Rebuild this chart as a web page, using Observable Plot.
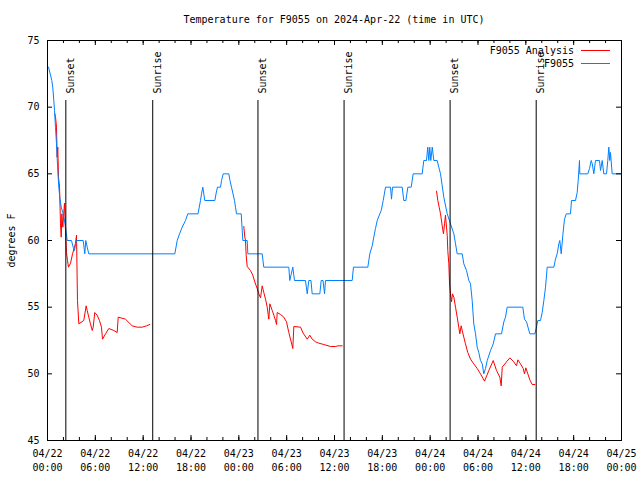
<!DOCTYPE html>
<html><head><meta charset="utf-8">
<script src="https://cdn.jsdelivr.net/npm/d3@7"></script>
<script src="https://cdn.jsdelivr.net/npm/@observablehq/plot@0.6"></script>
<style>
body{margin:0;background:#fff;font-family:"DejaVu Sans Mono",monospace;font-size:10px;color:#000;}
#wrap{position:relative;width:640px;height:480px;overflow:hidden;}
#title{position:absolute;left:47px;width:574px;top:14px;line-height:12px;text-align:center;white-space:pre;}
#chart{position:absolute;left:0;top:30px;}
#legend{position:absolute;right:30px;top:44px;}
#legend .row{display:flex;align-items:center;justify-content:flex-end;height:13px;line-height:13px;}
#legend .sw{display:inline-block;width:29px;height:0;margin-left:7px;border-top:1px solid;}
</style></head><body>
<div id="wrap">
  <div id="title">Temperature for F9055 on 2024-Apr-22 (time in UTC)</div>
  <div id="chart"></div>
  <div id="legend"></div>
</div>
<script>
const titleText = "Temperature for F9055 on 2024-Apr-22 (time in UTC)";
const yLabel = "degrees F";
const seriesNames = ["F9055 Analysis", "F9055"];
const seriesColors = ["#ff0000", "#0080ff"];

// Hours since 2024-04-22 00:00 UTC
const xMajorHours = [0,6,12,18,24,30,36,42,48,54,60,66,72];
const xTickLabels = ["04/22\n00:00","04/22\n06:00","04/22\n12:00","04/22\n18:00","04/23\n00:00","04/23\n06:00","04/23\n12:00","04/23\n18:00","04/24\n00:00","04/24\n06:00","04/24\n12:00","04/24\n18:00","04/25\n00:00"];
const xMinorHours = d3.range(0, 73, 2);
const yTicks = [45,50,55,60,65,70,75];

const sunHours = [2.3, 13.2, 26.4, 37.2, 50.5, 61.3];
const sunLabels = ["Sunset","Sunrise","Sunset","Sunrise","Sunset","Sunrise"];

// Observed F9055
const obsHours = [0.13,0.38,0.54,0.66,0.79,0.88,1.00,1.13,1.29,1.42,1.54,1.72,1.92,2.04,2.22,2.35,2.47,3.01,3.22,3.39,3.51,3.60,4.48,4.68,4.80,4.98,5.18,
15.97,16.27,16.56,16.90,17.31,17.60,18.88,19.19,19.32,19.48,19.73,20.99,21.14,21.32,21.70,21.83,22.04,22.74,22.89,23.08,23.27,23.46,23.58,23.71,24.30,24.40,24.50,25.05,25.13,26.93,27.13,
30.27,30.39,30.77,30.98,32.36,32.58,32.78,33.05,33.20,34.16,34.33,34.56,34.75,34.87,38.22,38.38,40.18,40.43,40.73,40.93,41.14,41.36,41.68,41.86,42.11,42.40,43.03,43.15,43.28,44.49,44.69,44.95,45.20,45.62,45.87,47.00,
47.20,47.54,47.70,47.83,47.95,48.08,48.26,48.46,48.88,49.08,49.30,49.51,49.71,50.14,50.55,50.97,51.18,51.39,52.02,52.22,52.56,52.85,53.06,53.27,53.47,53.69,53.90,54.10,54.31,54.53,54.73,54.94,55.16,55.57,55.91,56.20,56.95,57.24,57.45,57.66,59.62,59.83,60.09,60.50,61.13,
61.30,61.50,61.84,62.05,62.26,62.47,62.68,63.51,63.72,63.93,64.14,64.26,64.44,64.64,64.85,65.07,65.60,65.73,66.23,66.44,66.57,66.73,66.77,67.77,67.99,68.20,68.33,68.53,68.74,69.24,69.37,69.58,69.78,70.12,70.28,70.41,70.53,70.62,70.83,72.0];
const obsTemps = [73,72.4,72,71.5,70.5,69.75,68.5,67.25,65.25,64,63.25,62.5,62.1,61.75,61.25,60.6,60,60,59.5,59.25,59.7,60,60,59,60,59.5,59,
59,60,60.5,61,61.5,62,62,63,63.5,64,63,63,63.5,64,64,64.5,65,65,64.5,64,63.5,63,62.5,62,62,61,60,60,59,59,58,
58,57,58,57,57,56,57,57,56,56,57,57,56,57,57,58,58,59,59.6,60.25,60.9,61.5,62,62.25,63,64,64,63.1,64,64,63,63,64,64,65,65,
66,66,67,66,67,66,67,66,66,65.5,65,64.1,63.25,62,61.25,60.5,59.75,59,59,58.25,57.75,57,56.75,55.5,53.75,53,52,51.6,51,50.75,50,50.4,51,51.75,52.25,53,53,53.9,54.25,55,55,54.1,53.9,53,53,
53.4,54,54,54.6,55.5,56.5,58,58,58.6,59,59.75,60,59,60.4,61.6,62,62,63,63,63.6,64.5,66,65,65,65.4,66,65.75,65,66,66,65.25,66,65,65,66,67,66,66.6,65,65];

// F9055 Analysis (null = gap between runs)
const anaHours = [0.92,1.00,1.13,1.21,1.29,1.38,1.51,1.63,1.72,1.80,1.92,2.13,2.26,2.38,2.51,2.63,2.89,3.14,3.39,3.51,3.64,3.76,3.93,4.55,4.85,4.98,5.18,5.39,5.61,5.73,5.93,6.23,6.52,6.77,6.90,7.28,7.69,8.32,8.74,8.87,9.78,10.62,11.25,11.88,12.42,12.83,
null,
24.62,24.75,24.84,24.92,25.05,25.46,25.75,26.00,26.30,26.51,26.72,26.93,27.13,27.35,27.56,27.76,27.89,28.19,28.39,28.60,28.73,28.81,29.23,29.64,29.98,30.27,30.57,30.77,30.90,31.74,32.07,32.58,32.90,33.20,33.62,34.03,34.66,35.50,36.13,36.41,36.97,
null,
48.80,48.96,49.13,49.30,49.51,49.67,49.80,49.92,50.05,50.14,50.21,50.34,50.43,50.55,50.68,50.80,50.97,51.18,51.39,51.59,51.72,51.89,52.02,52.22,52.43,52.72,53.06,53.47,53.90,54.31,54.82,55.36,55.91,56.32,56.74,56.91,57.04,57.58,57.99,58.42,58.83,59.00,59.33,59.67,59.83,60.00,60.25,60.50,60.80,61.13];
const anaTemps = [69.5,69.3,68.5,66.25,67,64.75,64.0,61.25,60.25,62,61,62.8,60.7,59.1,58.5,58.0,58.3,59.0,59.5,59.8,60.4,55.5,53.75,54.0,55.1,54.75,54.25,53.75,53.25,53.5,54.6,54.4,54.0,53.5,52.6,53.0,53.4,53.25,53.1,54.25,54.1,53.6,53.5,53.5,53.6,53.7,
null,
61.05,60.25,60,58.9,58.05,57.75,57.4,56.9,56.4,56.0,55.7,56.6,56.1,55.6,55.0,54.1,55.25,54.75,54.4,54.0,53.7,54.6,54.45,54.25,53.9,53.1,52.4,51.9,53.55,53.5,53.05,52.6,52.9,52.6,52.4,52.3,52.2,52.05,52.05,52.1,52.1,
null,
63.7,63.0,62.5,62.0,61.1,60.5,61.25,61.9,61.0,60.4,59.25,58.25,56.75,56.0,55.4,56.0,55.75,55.0,54.25,53.5,53.0,53.6,53.25,52.75,52.25,51.6,51.1,50.75,50.4,50.0,49.45,50.25,51.0,50.25,49.75,49.1,50.5,50.9,51.2,50.95,50.6,51.05,50.75,50.4,50.0,50.45,50.0,49.55,49.2,49.2];

const obs = obsHours.map((h, i) => ({h, t: obsTemps[i]}));
const ana = anaHours.map((h, i) => ({h, t: anaTemps[i]}));
const sun = sunHours.map((h, i) => ({h, label: sunLabels[i]}));

document.getElementById("title").textContent = titleText;

const plot = Plot.plot({
  width: 640,
  height: 450,
  marginTop: 10,
  marginBottom: 40,
  marginLeft: 47,
  marginRight: 19,
  style: {fontFamily: "DejaVu Sans Mono, monospace", fontSize: "10px", color: "black", background: "white"},
  x: {domain: [0, 72]},
  y: {domain: [45, 75]},
  marks: [
    Plot.line(ana, {x: "h", y: "t", stroke: seriesColors[0], strokeWidth: 1, curve: "linear"}),
    Plot.line(obs, {x: "h", y: "t", stroke: seriesColors[1], strokeWidth: 1, curve: "linear"}),
    Plot.ruleX(sun, {x: "h", insetTop: 60, stroke: "black", strokeWidth: 1}),
    Plot.text(sun, {x: "h", frameAnchor: "top", text: "label", rotate: -90, textAnchor: "start", dy: 53, dx: 1, fill: "black"}),
    Plot.frame({stroke: "black", strokeWidth: 1}),
    Plot.ruleX(xMinorHours, {x: d => d, insetTop: 397, stroke: "black"}),
    Plot.ruleX(xMinorHours, {x: d => d, insetBottom: 397, stroke: "black"}),
    Plot.ruleX(xMajorHours, {x: d => d, insetTop: 395, stroke: "black"}),
    Plot.ruleX(xMajorHours, {x: d => d, insetBottom: 395, stroke: "black"}),
    Plot.ruleY(yTicks, {y: d => d, insetRight: 569, stroke: "black"}),
    Plot.ruleY(yTicks, {y: d => d, insetLeft: 569, stroke: "black"}),
    Plot.axisX(xMajorHours, {tickSize: 0, tickPadding: 7, lineHeight: 1.4, tickFormat: d => xTickLabels[xMajorHours.indexOf(d)], label: null}),
    Plot.axisY(yTicks, {tickSize: 0, tickPadding: 8, label: null}),
    Plot.text([yLabel], {frameAnchor: "left", text: d => d, rotate: -90, dx: -36, textAnchor: "middle", fill: "black"})
  ]
});
document.getElementById("chart").appendChild(plot);

const legend = document.getElementById("legend");
seriesNames.forEach((name, i) => {
  const row = document.createElement("div");
  row.className = "row";
  const label = document.createElement("span");
  label.textContent = name;
  const sw = document.createElement("span");
  sw.className = "sw";
  sw.style.borderTopColor = seriesColors[i];
  row.appendChild(label);
  row.appendChild(sw);
  legend.appendChild(row);
});
</script>
</body></html>
